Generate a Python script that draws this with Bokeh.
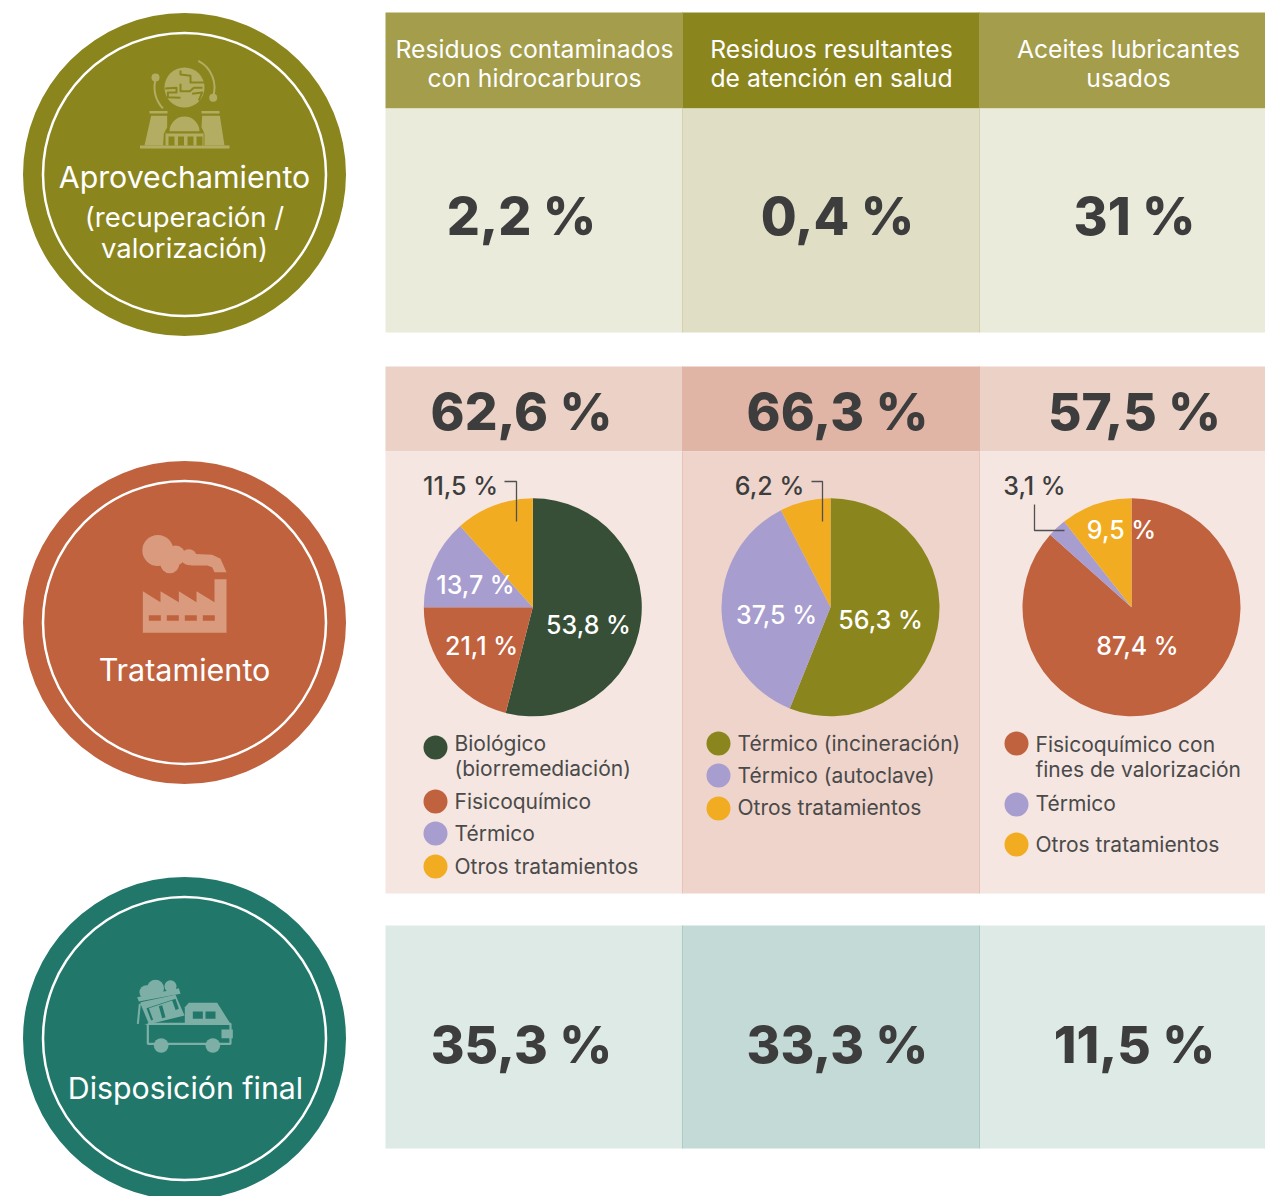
from bokeh.plotting import figure
from bokeh.models import Range1d
from bokeh.core.properties import value
from bokeh.embed import file_html
from bokeh.resources import INLINE
import math

# ---------- data ----------
column_titles = [["Residuos contaminados", "con hidrocarburos"],
                 ["Residuos resultantes", "de atención en salud"],
                 ["Aceites lubricantes", "usados"]]
aprovechamiento = ["2,2 %", "0,4 %", "31 %"]
tratamiento = ["62,6 %", "66,3 %", "57,5 %"]
disposicion = ["35,3 %", "33,3 %", "11,5 %"]

pie1_names = ["Biológico (biorremediación)", "Fisicoquímico", "Térmico", "Otros tratamientos"]
pie1_labels = ["53,8 %", "21,1 %", "13,7 %", "11,5 %"]
pie1_slices = [54.0, 21.0, 13.4, 11.6]      # as drawn in the picture
pie2_names = ["Térmico (incineración)", "Térmico (autoclave)", "Otros tratamientos"]
pie2_labels = ["56,3 %", "37,5 %", "6,2 %"]
pie2_slices = [56.1, 36.4, 7.5]             # as drawn in the picture
pie3_names = ["Fisicoquímico con fines de valorización", "Térmico", "Otros tratamientos"]
pie3_labels = ["87,4 %", "3,1 %", "9,5 %"]
pie3_slices = [86.6, 2.8, 10.6]             # as drawn in the picture

# ---------- style ----------
OLIVE, RED, TEAL = "#8B851E", "#C1623F", "#21786A"
GREEN, LAV, YEL = "#364F36", "#A79DCE", "#F2AC22"
OLIVE_L, RED_L, TEAL_L = "#B3AD63", "#D99A7D", "#7DAFA6"
DARK, LEG = "#3D3D3D", "#4A4A4A"
FONT = "Inter"
HEAVY = "Inter ExtraBold"
MEDIUM = "Inter Medium"

p = figure(width=1265, height=1196, output_backend="svg", toolbar_location=None,
           x_range=Range1d(0, 1265), y_range=Range1d(0, 1196), min_border=0,
           outline_line_color=None, background_fill_color="white", border_fill_color="white")
p.axis.visible = False
p.grid.visible = False

def Y(y):
    return 1196 - y

def rect(x0, y0, x1, y1, color):
    p.quad(left=[x0], right=[x1], top=[Y(y0)], bottom=[Y(y1)], fill_color=color, line_color=None)

def poly(points, color, ox=0, oy=0, k=1.0):
    p.patch([ox + a * k for a, b in points], [Y(oy + b * k) for a, b in points],
            fill_color=color, line_color=None)

def disc(x, y, r, color):
    p.circle([x], [Y(y)], radius=r, fill_color=color, line_color=None)

def label(x, y, s, size, color=DARK, font=FONT, bold=False, align="center"):
    p.text([x], [Y(y - 1)], text=[s], text_font=value(font), text_font_size=f"{size}px",
           text_color=color, text_font_style="bold" if bold else "normal",
           text_align=align, text_baseline="middle")

# ---------- panels ----------
XS = [385, 682, 979, 1265]
def row(y0, y1, light, mid, edge):
    for i in range(3):
        rect(XS[i], y0, XS[i + 1], y1, mid if i == 1 else light)
    for x in XS[1:3]:
        p.line([x, x], [Y(y0), Y(y1)], line_color=edge, line_width=1)

row(12, 108, "#A49D4B", OLIVE, "#A49D4B")
row(108, 332, "#EAEBDA", "#E0DEC5", "#D3D1B0")
row(366, 451, "#ECD1C6", "#E1B5A6", "#E1B5A6")
row(451, 893, "#F5E6E1", "#EFD4CB", "#E8C4B8")
row(925, 1148, "#DDEAE6", "#C4DAD6", "#ADCBC5")

CX = [521, 837, 1134]
HX = [534, 831, 1128]
for cx, t in zip(HX, column_titles):
    label(cx, 49, t[0], 24.7, "white")
    label(cx, 78, t[1], 24.7, "white")
for cx, v in zip(CX, aprovechamiento):
    label(cx, 217, v, 52, DARK, HEAVY, True)
for cx, v in zip(CX, tratamiento):
    label(cx, 411, v, 51.5, DARK, HEAVY, True)
for cx, v in zip(CX, disposicion):
    label(cx, 1044, v, 51.5, DARK, HEAVY, True)

# ---------- pies ----------
def pie(cx, cy, r, vals, cols):
    total = sum(vals)
    a = math.pi / 2
    for v, c in zip(vals, cols):
        b = a - v / total * 2 * math.pi
        p.wedge([cx], [Y(cy)], radius=r, start_angle=b, end_angle=a,
                fill_color=c, line_color=None)
        a = b

pie(532.3, 606.8, 109, pie1_slices, [GREEN, RED, LAV, YEL])
pie(830, 606.8, 109, pie2_slices, [OLIVE, LAV, YEL])
pie(1131, 606.8, 109, pie3_slices, [RED, LAV, YEL])

for (x, y), s, c in zip([(588, 625), (481, 646), (475, 585), (460, 486)], pie1_labels,
                        ["white", "white", "white", DARK]):
    label(x, y, s, 25, c, MEDIUM)
for (x, y), s, c in zip([(880, 620), (776, 615), (769, 486)], pie2_labels, ["white", "white", DARK]):
    label(x, y, s, 25, c, MEDIUM)
for (x, y), s, c in zip([(1137, 646), (1034, 486), (1121, 530)], pie3_labels, ["white", DARK, "white"]):
    label(x, y, s, 25, c, MEDIUM)

for xs, ys in [([504, 516, 516], [481, 481, 521]),
               ([811, 822, 822], [481, 481, 521]),
               ([1034, 1034, 1064], [504, 530, 530])]:
    p.line(xs, [Y(y) for y in ys], line_color="#505050", line_width=1.3)

# ---------- legends ----------
def legend_item(cx, cy, color, lines, ys, tx):
    disc(cx, cy, 12, color)
    for s, y in zip(lines, ys):
        label(tx, y, s, 21, LEG, align="left")

legend_item(435, 747, GREEN, ["Biológico", "(biorremediación)"], [744, 769], 454)
legend_item(435, 801, RED, [pie1_names[1]], [802], 454)
legend_item(435, 833, LAV, [pie1_names[2]], [834], 454)
legend_item(435, 866, YEL, [pie1_names[3]], [867], 454)

legend_item(718, 743, OLIVE, [pie2_names[0]], [744], 737)
legend_item(718, 775, LAV, [pie2_names[1]], [776], 737)
legend_item(718, 808, YEL, [pie2_names[2]], [808], 737)

legend_item(1016, 743, RED, ["Fisicoquímico con", "fines de valorización"], [745, 770], 1035)
legend_item(1016, 804, LAV, [pie3_names[1]], [804], 1035)
legend_item(1016, 844, YEL, [pie3_names[2]], [845], 1035)

# ---------- badges ----------
for cy, col in [(174, OLIVE), (622, RED), (1038, TEAL)]:
    disc(184, cy, 161.5, col)
    p.circle([184], [Y(cy)], radius=141.5, fill_color=None, line_color="white", line_width=2.5)

label(184, 177.5, "Aprovechamiento", 30.3, "white")
label(184, 217.5, "(recuperación /", 27.5, "white")
label(184, 248.5, "valorización)", 27.5, "white")
label(184, 670, "Tratamiento", 30.5, "white")
label(185, 1088, "Disposición final", 30.3, "white")

# ---------- icon: globe + plant ----------
ox, oy, k = 130, 50, 1 / 3
disc(184, 87, 20, OLIVE_L)
for pts in [[(150, 60), (150, 72), (180, 76), (180, 96), (222, 96)],
            [(104, 114), (138, 112), (138, 126), (112, 126), (112, 140), (150, 142)],
            [(150, 100), (150, 122), (178, 122), (190, 112), (216, 112)],
            [(185, 130), (215, 126), (205, 150)]]:
    p.line([ox + a * k for a, b in pts], [Y(oy + b * k) for a, b in pts], line_color=OLIVE,
           line_width=2, line_join="round")
p.arc([184], [Y(87)], radius=30, start_angle=math.radians(-19), end_angle=math.radians(62.6),
      line_color=OLIVE_L, line_width=2)
p.arc([184], [Y(87)], radius=30, start_angle=math.radians(161), end_angle=math.radians(224),
      line_color=OLIVE_L, line_width=2)
disc(155, 77, 4, OLIVE_L)
disc(212.7, 97.3, 4, OLIVE_L)
rect(149, 110.5, 167, 113, OLIVE_L)
rect(201, 110.5, 219, 113, OLIVE_L)
poly([(62, 196), (110, 196), (110, 230), (100, 250), (98, 285), (42, 285)], OLIVE_L, ox, oy, k)
poly([(215, 196), (268, 196), (282, 285), (222, 285), (222, 250), (213, 230)], OLIVE_L, ox, oy, k)
rect(139.5, 145, 229, 148, OLIVE_L)
p.wedge([184], [Y(131)], radius=15, start_angle=0, end_angle=math.pi, fill_color=OLIVE_L, line_color=None)
rect(165, 131.5, 203, 145, OLIVE_L)
for wx in (168, 177.5, 187, 196):
    rect(wx, 136, wx + 6, 145, OLIVE)
rect(165, 131, 203, 133, OLIVE)

# ---------- icon: factory ----------
ox, oy = 110, 520
poly([(240, 100), (305, 103), (330, 115), (348, 155), (312, 155), (305, 140), (290, 135), (240, 135)],
     RED_L, ox, oy, k)
disc(110 + 142 / 3, 520 + 90 / 3, 15.5, RED_L)
disc(110 + 195 / 3, 520 + 105 / 3, 10, RED_L)
disc(110 + 178 / 3, 520 + 130 / 3, 9.5, RED_L)
disc(110 + 235 / 3, 520 + 110 / 3, 8, RED_L)
poly([(97, 212), (150, 245), (150, 212), (205, 245), (205, 212), (258, 245), (258, 212), (312, 245),
      (312, 176), (348, 176), (348, 337), (97, 337)], RED_L, ox, oy, k)
for wx in (115, 169, 223, 277):
    rect(110 + wx / 3, 520 + 284 / 3, 110 + (wx + 36) / 3, 520 + 301 / 3, RED)

# ---------- icon: truck ----------
ox, oy = 120, 965
disc(120 + 105 / 3, 965 + 68 / 3, 8.5, TEAL_L)
disc(120 + 78 / 3, 965 + 80 / 3, 7, TEAL_L)
disc(120 + 150 / 3, 965 + 62 / 3, 6, TEAL_L)
poly([(50, 95), (175, 68), (180, 85), (55, 108)], TEAL_L, ox, oy, k)
poly([(60, 110), (165, 88), (192, 150), (92, 175), (78, 178), (60, 172)], TEAL_L, ox, oy, k)
poly([(60, 115), (85, 175), (55, 178)], TEAL, ox, oy, k)
poly([(78, 128), (165, 100), (175, 130), (92, 165)], TEAL, ox, oy, k)
poly([(85, 128), (155, 105), (172, 152), (100, 168)], TEAL_L, ox, oy, k)
poly([(115, 122), (125, 119), (135, 155), (125, 158)], TEAL, ox, oy, k)
p.line([120 + 52 / 3, 120 + 58 / 3], [Y(965 + 175 / 3), Y(965 + 115 / 3)], line_color=TEAL_L, line_width=2)
poly([(193, 175), (193, 125), (205, 112), (290, 112), (330, 175)], TEAL_L, ox, oy, k)
rect(120 + 217 / 3, 965 + 138 / 3, 120 + 247 / 3, 965 + 160 / 3, TEAL)
rect(120 + 255 / 3, 965 + 138 / 3, 120 + 285 / 3, 965 + 160 / 3, TEAL)
xs = [120 + a / 3 for a in (82, 82, 330, 330, 82)]
ys = [Y(965 + b / 3) for b in (175, 235, 235, 175, 175)]
p.line(xs, ys, line_color=TEAL_L, line_width=2.2)
disc(120 + 122 / 3, 965 + 240 / 3, 7.3, TEAL_L)
disc(120 + 277 / 3, 965 + 240 / 3, 7.3, TEAL_L)
rect(120 + 303 / 3, 965 + 192 / 3, 120 + 337 / 3, 965 + 218 / 3, TEAL_L)

open("out.html", "w").write(file_html(p, INLINE))
